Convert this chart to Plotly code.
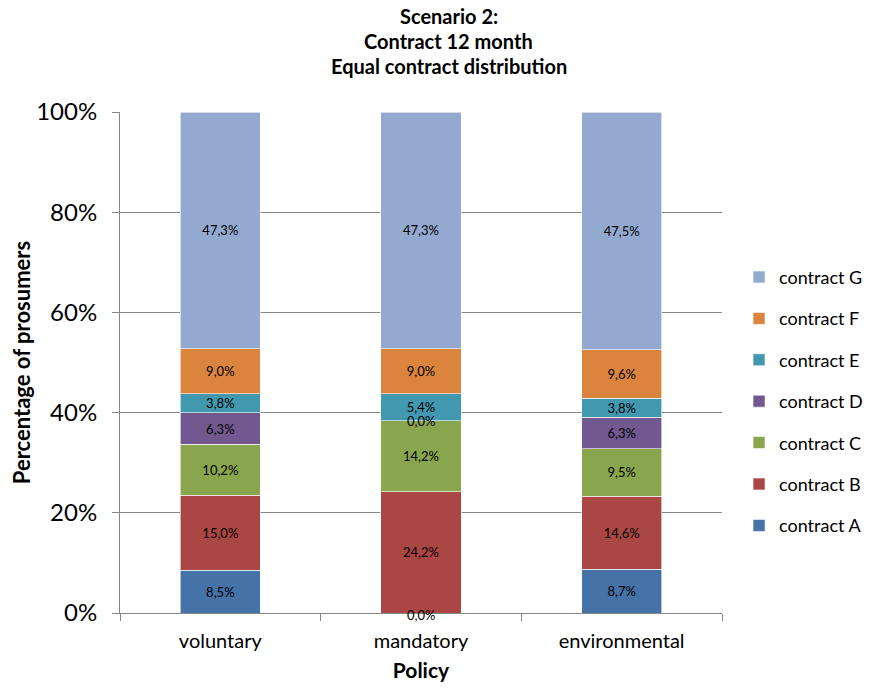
import plotly.graph_objects as go

policies = ["voluntary", "mandatory", "environmental"]
contracts = ["contract A", "contract B", "contract C", "contract D",
             "contract E", "contract F", "contract G"]
values = {
    "contract A": [8.5, 0.0, 8.7],
    "contract B": [15.0, 24.2, 14.6],
    "contract C": [10.2, 14.2, 9.5],
    "contract D": [6.3, 0.0, 6.3],
    "contract E": [3.8, 5.4, 3.8],
    "contract F": [9.0, 9.0, 9.6],
    "contract G": [47.3, 47.3, 47.5],
}
colors = {
    "contract A": "#4572A7",
    "contract B": "#AA4643",
    "contract C": "#89A54E",
    "contract D": "#71588F",
    "contract E": "#4198AF",
    "contract F": "#DB843D",
    "contract G": "#93A9CF",
}
y_ticks = [0, 20, 40, 60, 80, 100]
y_ticklabels = ["0%", "20%", "40%", "60%", "80%", "100%"]
title_lines = ["Scenario 2:", "Contract 12 month", "Equal contract distribution"]

FONT = "Lato"
W, H = 858, 674
ML, MT = 112, 104
plot_top, plot_bottom, plot_right = 104, 605, 714
MR, MB = W - plot_right, H - plot_bottom

def fmt(v):
    return f"{v:.1f}".replace(".", ",") + "%"

fig = go.Figure()
totals = [sum(values[c][i] for c in contracts) for i in range(len(policies))]
cum = [0.0] * len(policies)
annotations = []
for k, c in enumerate(contracts):
    vals = values[c]
    texts = [fmt(v) if v > 0 else "" for v in vals]
    fig.add_trace(go.Bar(
        name=c, x=policies, y=vals,
        marker=dict(color=colors[c], line=dict(color="white", width=0.6)),
        text=texts, textposition="inside", insidetextanchor="middle",
        textangle=0, constraintext="none",
        textfont=dict(family=FONT, size=13, color="black"),
        legendgroup=c, legendrank=100 - k, hoverinfo="skip",
    ))
    for i, v in enumerate(vals):
        if v == 0:
            annotations.append(dict(
                x=policies[i], y=cum[i] / totals[i] * 100, xref="x", yref="y",
                text=fmt(v), showarrow=False,
                font=dict(family=FONT, size=13, color="black"),
                yshift=-2 if cum[i] == 0 else 0,
            ))
        cum[i] += v

title_px = [8, 33, 58]
for j, line in enumerate(title_lines):
    annotations.append(dict(
        x=0.5465, y=(plot_bottom - title_px[j]) / (plot_bottom - plot_top),
        xref="paper", yref="paper",
        text=f"<b>{line}</b>", showarrow=False,
        font=dict(family=FONT, size=20, color="black"),
        xanchor="center", yanchor="middle",
    ))

fig.update_layout(
    barmode="stack", barnorm="percent", bargap=0.6,
    width=W, height=H,
    margin=dict(l=ML, r=MR, t=MT, b=MB, autoexpand=False),
    plot_bgcolor="white", paper_bgcolor="white",
    font=dict(family=FONT, color="black"),
    legend=dict(
        x=1.0283, y=0.707, xanchor="left", yanchor="top",
        traceorder="grouped", tracegroupgap=15,
        font=dict(family=FONT, size=18, color="black"),
        itemclick=False, itemdoubleclick=False,
    ),
    annotations=annotations,
)
fig.update_xaxes(
    automargin=False,
    showline=True, linecolor="#868686", linewidth=1,
    ticks="outside", ticklen=7, tickcolor="#868686", tickson="boundaries",
    ticklabelstandoff=10,
    tickfont=dict(family=FONT, size=20, color="black"),
    title=dict(text="<b>Policy</b>", font=dict(family=FONT, size=21, color="black"), standoff=22),
)
fig.update_yaxes(
    automargin=False,
    range=[0, 100], tickvals=y_ticks, ticktext=y_ticklabels,
    showgrid=True, gridcolor="#868686", gridwidth=1,
    showline=True, linecolor="#868686", linewidth=1,
    ticks="outside", ticklen=7, tickcolor="#868686",
    ticklabelstandoff=10,
    tickfont=dict(family=FONT, size=24, color="black"),
    title=dict(text="<b>Percentage of prosumers</b>", font=dict(family=FONT, size=22, color="black"), standoff=0),
    zeroline=False,
)

fig.write_html("out.html")
